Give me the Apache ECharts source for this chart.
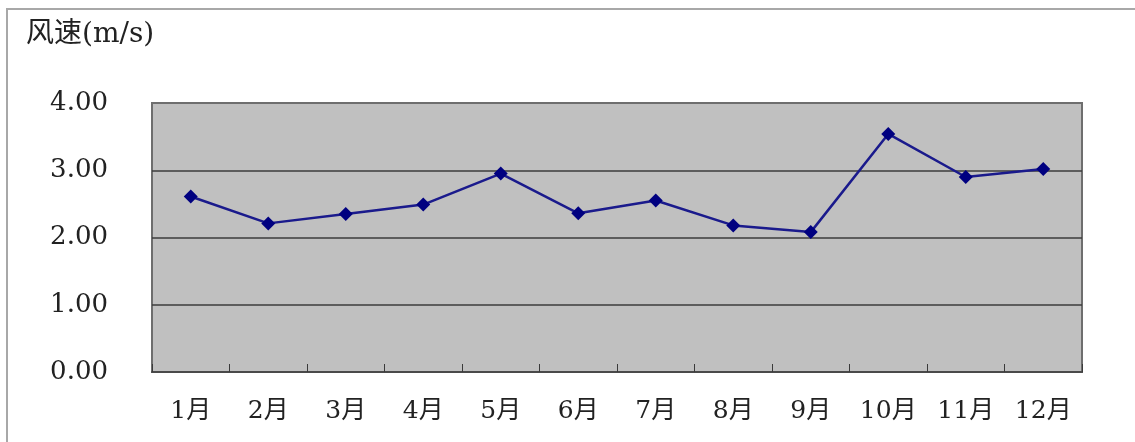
<!DOCTYPE html>
<html>
<head>
<meta charset="utf-8">
<style>
  html, body { margin: 0; padding: 0; background: #ffffff; }
  #chart { width: 1135px; height: 442px; }
</style>
<script src="https://cdn.jsdelivr.net/npm/echarts@6/dist/echarts.min.js"></script>
</head>
<body>
<div id="chart"></div>
<script>
// Monthly mean wind speed (m/s)
const months = ['1月', '2月', '3月', '4月', '5月', '6月', '7月', '8月', '9月', '10月', '11月', '12月'];
const windSpeed = [2.61, 2.21, 2.35, 2.49, 2.95, 2.36, 2.55, 2.18, 2.08, 3.54, 2.90, 3.02];
const yTicks = [0, 1, 2, 3, 4];
const yTitle = '风速(m/s)';

const textFont = "'DejaVu Serif', 'Noto Sans CJK SC', serif";

const chart = echarts.init(document.getElementById('chart'), null, { renderer: 'canvas' });

chart.setOption({
  backgroundColor: '#ffffff',
  animation: false,
  graphic: [
    // outer chart frame (top and left edges)
    {
      type: 'polyline',
      shape: { points: [[7, 442], [7, 9], [1135, 9]] },
      style: { stroke: '#a8a8a8', lineWidth: 2, fill: null },
      silent: true
    },
    {
      type: 'text',
      left: 26,
      top: 21,
      style: {
        text: yTitle,
        font: "28px " + textFont,
        fill: '#222222'
      }
    }
  ],
  grid: {
    left: 152,
    right: 53,
    top: 103,
    bottom: 70,
    show: true,
    backgroundColor: '#c0c0c0',
    borderColor: '#6e6e6e',
    borderWidth: 2
  },
  xAxis: {
    type: 'category',
    data: months,
    boundaryGap: true,
    axisLine: { show: true, lineStyle: { color: '#4a4a4a', width: 2 } },
    axisTick: { show: true, inside: true, length: 8, alignWithLabel: false, lineStyle: { color: '#3a3a3a', width: 1 } },
    axisLabel: {
      margin: 27,
      fontSize: 25,
      fontFamily: textFont,
      color: '#222222',
      interval: 0
    },
    splitLine: { show: false }
  },
  yAxis: {
    type: 'value',
    min: yTicks[0],
    max: yTicks[yTicks.length - 1],
    interval: 1,
    axisLine: { show: false },
    axisTick: { show: false },
    axisLabel: {
      margin: 44,
      fontSize: 26,
      fontFamily: textFont,
      color: '#222222',
      formatter: v => v.toFixed(2)
    },
    splitLine: {
      show: true,
      showMinLine: false,
      showMaxLine: false,
      lineStyle: { color: '#3c3c3c', width: 1.5 }
    }
  },
  series: [{
    type: 'line',
    data: windSpeed,
    symbol: 'diamond',
    symbolSize: 14,
    lineStyle: { color: '#1a1a8c', width: 2.5 },
    itemStyle: { color: '#000080' },
    label: { show: false }
  }]
});
</script>
</body>
</html>
